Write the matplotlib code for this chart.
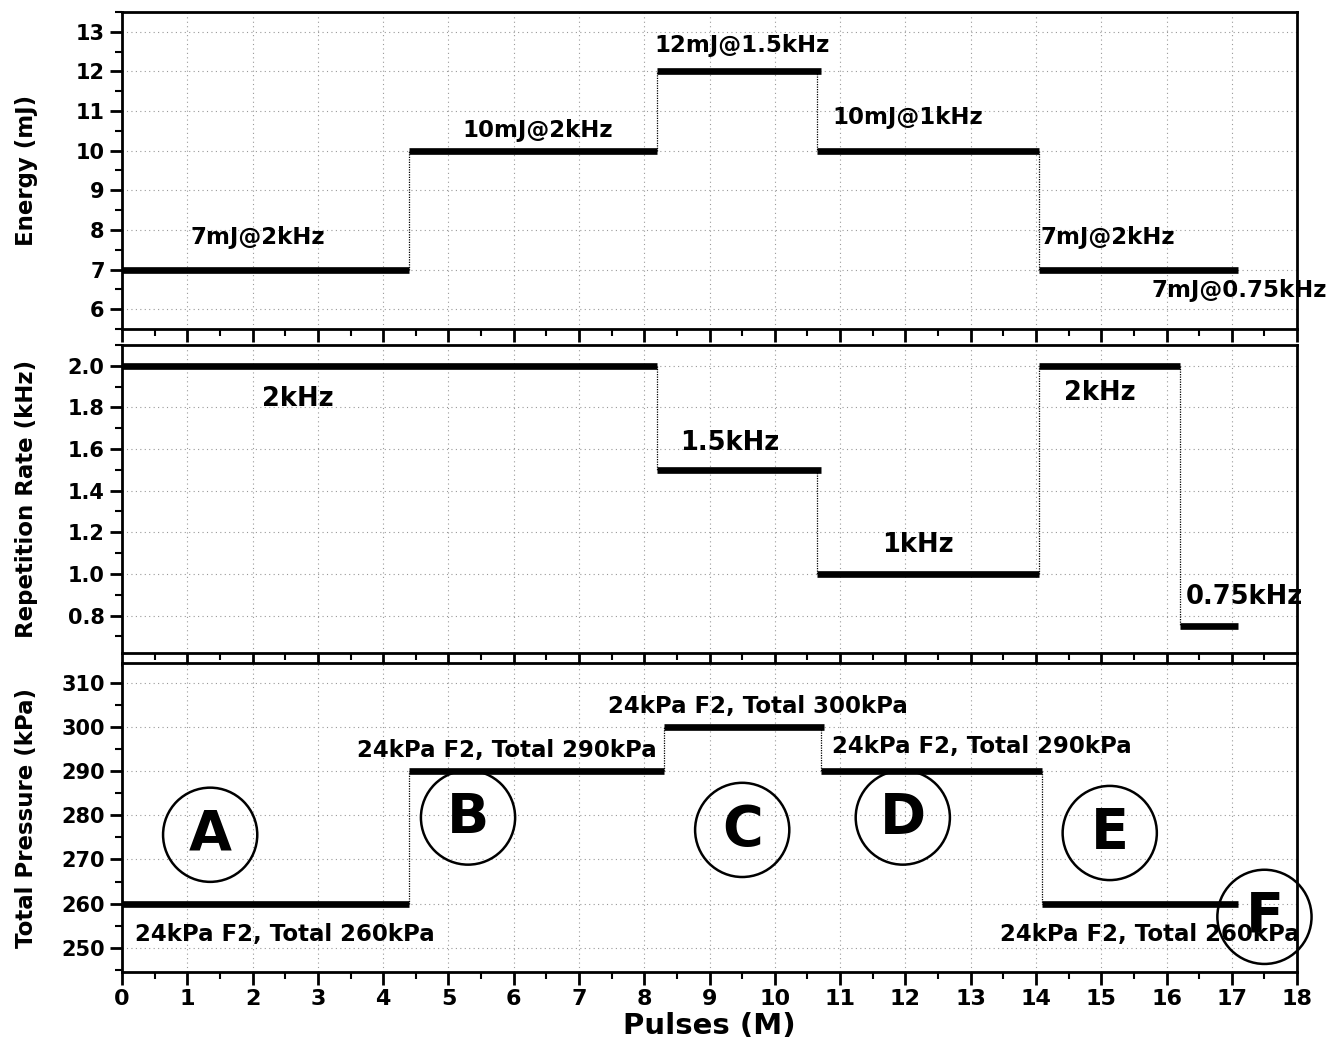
import numpy as np
import matplotlib
matplotlib.use("Agg")
from matplotlib import pyplot as plt
from matplotlib.ticker import MultipleLocator

plt.rcParams['font.family'] = ['DejaVu Sans']
plt.rcParams['font.weight'] = 'bold'

# segments: start, end, level
energy_start = [0, 4.4, 8.2, 10.65, 14.05]
energy_end = [4.4, 8.2, 10.7, 14.05, 17.1]
energy = [7, 10, 12, 10, 7]

rate_start = [0, 8.2, 10.65, 14.05, 16.2]
rate_end = [8.2, 10.7, 14.05, 16.2, 17.1]
rate = [2.0, 1.5, 1.0, 2.0, 0.75]

press_start = [0, 4.4, 8.3, 10.7, 14.1]
press_end = [4.4, 8.3, 10.75, 14.1, 17.1]
pressure = [260, 290, 300, 290, 260]

energy_labels = ["7mJ@2kHz", "10mJ@2kHz", "12mJ@1.5kHz", "10mJ@1kHz", "7mJ@2kHz", "7mJ@0.75kHz"]
energy_lx = [2.08, 6.36, 9.5, 12.04, 15.1, 17.12]
energy_ly = [7.8, 10.5, 12.65, 10.83, 7.8, 6.46]

rate_labels = ["2kHz", "1.5kHz", "1kHz", "2kHz", "0.75kHz"]
rate_lx = [2.7, 9.31, 12.19, 14.98, 17.2]
rate_ly = [1.84, 1.63, 1.14, 1.87, 0.89]

press_labels = ["24kPa F2, Total 260kPa", "24kPa F2, Total 290kPa", "24kPa F2, Total 300kPa",
                "24kPa F2, Total 290kPa", "24kPa F2, Total 260kPa"]
press_lx = [2.5, 5.9, 9.74, 13.17, 15.74]
press_ly = [253, 294.8, 304.6, 295.7, 253]

regions = ["A", "B", "C", "D", "E", "F"]
region_x = [1.35, 5.3, 9.5, 11.96, 15.13, 17.5]
region_y = [275.6, 279.5, 276.7, 279.5, 276, 257]

fig = plt.figure(figsize=(13.44, 10.53), dpi=100)
L, W = 0.0908, 0.8743
ax1 = fig.add_axes([L, 0.6876, W, 0.3010])
ax2 = fig.add_axes([L, 0.3799, W, 0.2925])
ax3 = fig.add_axes([L, 0.0769, W, 0.2934])


def draw_steps(ax, xs, xe, ys):
    ax.hlines(ys, xs, xe, colors='black', lw=4.8, zorder=3)
    for i in range(1, len(ys)):
        if ys[i] != ys[i - 1]:
            ax.vlines(xs[i], ys[i - 1], ys[i], colors='black', lw=0.9,
                      linestyles=(0, (1, 1)), zorder=2)


def style(ax, ylim, ymaj, ymin, ylabel, show_x):
    ax.set_xlim(0, 18)
    ax.set_ylim(*ylim)
    ax.xaxis.set_major_locator(MultipleLocator(1))
    ax.xaxis.set_minor_locator(MultipleLocator(0.5))
    ax.yaxis.set_major_locator(MultipleLocator(ymaj))
    ax.yaxis.set_minor_locator(MultipleLocator(ymin))
    ax.grid(True, which='major', color='#999999', ls=(0, (1, 3)), lw=0.8)
    ax.set_axisbelow(True)
    for s in ax.spines.values():
        s.set_linewidth(2)
    ax.tick_params(which='major', direction='out', length=9, width=2, labelsize=15)
    ax.tick_params(which='minor', direction='out', length=5, width=1.5)
    ax.tick_params(axis='x', labelsize=16, labelbottom=show_x)
    ax.set_ylabel(ylabel, fontsize=16.5, fontweight='bold')
    ax.yaxis.set_label_coords(-0.0715, 0.5)


draw_steps(ax1, energy_start, energy_end, energy)
style(ax1, (5.5, 13.5), 1, 0.5, "Energy (mJ)", False)
for t, x, y in zip(energy_labels, energy_lx, energy_ly):
    ax1.text(x, y, t, ha='center', va='center', fontsize=16.5, fontweight='bold', clip_on=False)

draw_steps(ax2, rate_start, rate_end, rate)
style(ax2, (0.62, 2.1), 0.2, 0.1, "Repetition Rate (kHz)", False)
ax2.set_yticks(np.arange(0.8, 2.01, 0.2))
ax2.set_yticklabels(["%.1f" % v for v in np.arange(0.8, 2.01, 0.2)])
for t, x, y in zip(rate_labels, rate_lx, rate_ly):
    ax2.text(x, y, t, ha='center', va='center', fontsize=18.5, fontweight='bold', clip_on=False)

draw_steps(ax3, press_start, press_end, pressure)
style(ax3, (244.5, 314.5), 10, 5, "Total Pressure (kPa)", True)
for t, x, y in zip(press_labels, press_lx, press_ly):
    ax3.text(x, y, t, ha='center', va='center', fontsize=16.5, fontweight='bold', clip_on=False)
ax3.scatter(region_x, region_y, s=4600, facecolors='none', edgecolors='black',
            linewidths=1.8, zorder=4, clip_on=False)
for t, x, y in zip(regions, region_x, region_y):
    ax3.text(x, y, t, ha='center', va='center', fontsize=40, fontweight='bold', zorder=5)
ax3.set_xlabel("Pulses (M)", fontsize=21, fontweight='bold', labelpad=2)

fig.savefig("out.png", dpi=100)
